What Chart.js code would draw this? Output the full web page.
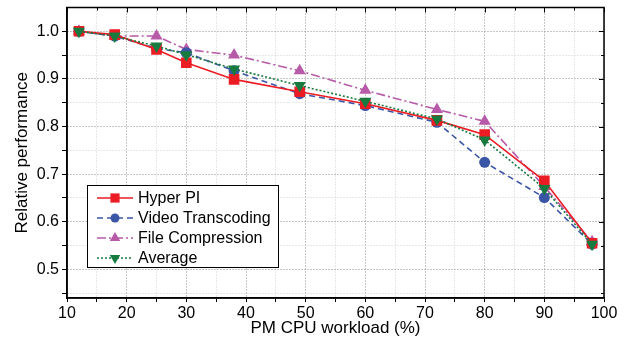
<!DOCTYPE html>
<html>
<head>
<meta charset="utf-8">
<script src="https://cdn.jsdelivr.net/npm/chart.js@4"></script>
<style>
  html, body { margin: 0; padding: 0; background: #fff; }
</style>
</head>
<body>
<canvas id="myChart" width="627" height="347"></canvas>
<script>
// data
const workload = [12, 18, 25, 30, 38, 49, 60, 72, 80, 90, 98];
const hyperPI = [1.0, 0.993, 0.962, 0.934, 0.899, 0.873, 0.848, 0.813, 0.783, 0.686, 0.555];
const videoTranscoding = [1.0, 0.99, 0.964, 0.955, 0.917, 0.869, 0.844, 0.809, 0.725, 0.651, 0.553];
const fileCompression = [1.0, 0.99, 0.99, 0.962, 0.95, 0.917, 0.876, 0.836, 0.811, 0.674, 0.558];
const average = [1.0, 0.99, 0.969, 0.951, 0.921, 0.886, 0.853, 0.816, 0.772, 0.67, 0.553];

const xTicks = [10, 15, 20, 25, 30, 35, 40, 45, 50, 55, 60, 65, 70, 75, 80, 85, 90, 95, 100];
const yTicks = [0.45, 0.5, 0.55, 0.6, 0.65, 0.7, 0.75, 0.8, 0.85, 0.9, 0.95, 1.0];

const FONT = '"Liberation Sans", Arial, sans-serif';

function pts(arr) {
  return workload.map((x, i) => ({ x: x, y: arr[i] }));
}

function series(label, arr, color, dash, style, rot, r, order) {
  return {
    label: label,
    data: pts(arr),
    borderColor: color,
    backgroundColor: color,
    borderWidth: 1.6,
    borderDash: dash,
    pointStyle: style,
    pointRotation: rot,
    pointRadius: r,
    pointBorderWidth: 0,
    showLine: true,
    order: order,
  };
}

const isMajorX = v => Math.round(v) % 10 === 0;
const isMajorY = v => Math.round(v * 100) % 10 === 0;

// frame, inner ticks on top/right, boxed legend
const framePlugin = {
  id: 'frame',
  afterDraw(chart) {
    const { ctx, chartArea: a } = chart;
    const xs = chart.scales.x, ys = chart.scales.y;
    ctx.save();
    ctx.strokeStyle = '#000';
    ctx.lineWidth = 1.5;
    ctx.setLineDash([]);
    ctx.strokeRect(a.left, a.top, a.right - a.left, a.bottom - a.top);
    ctx.lineWidth = 1;
    ctx.beginPath();
    xTicks.forEach(v => {
      const px = Math.round(xs.getPixelForValue(v)) + 0.5;
      const len = isMajorX(v) ? 5 : 3;
      ctx.moveTo(px, a.top); ctx.lineTo(px, a.top + len);
    });
    yTicks.forEach(v => {
      const py = Math.round(ys.getPixelForValue(v)) + 0.5;
      const len = isMajorY(v) ? 5 : 3;
      ctx.moveTo(a.right, py); ctx.lineTo(a.right - len, py);
    });
    ctx.stroke();

    // legend
    ctx.fillStyle = '#fff';
    ctx.fillRect(87, 185, 191, 82);
    ctx.strokeRect(87.5, 185.5, 191, 82);
    chart.data.datasets.forEach((ds, i) => {
      const y = 198 + i * 20;
      ctx.strokeStyle = ds.borderColor;
      ctx.lineWidth = ds.borderWidth;
      ctx.setLineDash(ds.borderDash || []);
      ctx.beginPath();
      ctx.moveTo(97, y); ctx.lineTo(133, y);
      ctx.stroke();
      ctx.setLineDash([]);
      ctx.fillStyle = ds.backgroundColor;
      Chart.helpers.drawPoint(ctx, {
        pointStyle: ds.pointStyle,
        rotation: ds.pointRotation,
        radius: ds.pointRadius - 1,
        borderWidth: 0,
      }, 115, y);
      ctx.fillStyle = '#000';
      ctx.font = '16px ' + FONT;
      ctx.textBaseline = 'middle';
      ctx.fillText(ds.label, 138, y + 1);
    });
    ctx.restore();
  }
};

const ctx = document.getElementById('myChart').getContext('2d');
const myChart = new Chart(ctx, {
  type: 'scatter',
  data: {
    datasets: [
      series('Hyper PI', hyperPI, '#ec1c24', [], 'rect', 0, 7.5, 1),
      series('Video Transcoding', videoTranscoding, '#3a55a5', [6, 4], 'circle', 0, 5.5, 2),
      series('File Compression', fileCompression, '#b75aa8', [9, 3, 2, 3], 'triangle', 0, 7, 3),
      series('Average', average, '#177a3f', [2, 2], 'triangle', 180, 7, 0),
    ],
  },
  options: {
    responsive: false,
    animation: false,
    devicePixelRatio: 1,
    layout: { padding: { top: 1, right: 23, left: 0, bottom: 0 } },
    plugins: {
      legend: { display: false },
      tooltip: { enabled: false },
    },
    scales: {
      x: {
        type: 'linear',
        min: 10,
        max: 100,
        afterBuildTicks: s => { s.ticks = xTicks.map(v => ({ value: v })); },
        afterFit: s => { s.height = 49; },
        ticks: {
          autoSkip: false,
          maxRotation: 0,
          padding: 2,
          color: '#000',
          font: { family: FONT, size: 16 },
          callback: v => isMajorX(v) ? String(v) : '',
        },
        grid: {
          color: c => (c.tick && isMajorX(c.tick.value)) ? '#8c8c8c' : '#cfcfcf',
          lineWidth: 1,
          tickColor: '#000',
          tickLength: 4,
        },
        border: { display: true, color: '#000', width: 1.5, dash: [1, 2] },
        title: {
          display: true,
          text: 'PM CPU workload (%)',
          color: '#000',
          font: { family: FONT, size: 17 },
          padding: { top: 0, bottom: 8 },
        },
      },
      y: {
        type: 'linear',
        min: 0.44,
        max: 1.05,
        afterBuildTicks: s => { s.ticks = yTicks.map(v => ({ value: v })); },
        afterFit: s => { s.width = 67; s.paddingTop = 0; s.paddingBottom = 0; },
        ticks: {
          autoSkip: false,
          padding: 3,
          color: '#000',
          font: { family: FONT, size: 16 },
          callback: v => isMajorY(v) ? v.toFixed(1) : '',
        },
        grid: {
          color: c => (c.tick && isMajorY(c.tick.value)) ? '#8c8c8c' : '#cfcfcf',
          lineWidth: 1,
          tickColor: '#000',
          tickLength: 5,
        },
        border: { display: true, color: '#000', width: 1.5, dash: [1, 2] },
        title: {
          display: true,
          text: 'Relative performance',
          color: '#000',
          font: { family: FONT, size: 17 },
          padding: { top: 12, bottom: 0 },
        },
      },
    },
  },
  plugins: [framePlugin],
});
</script>
</body>
</html>
